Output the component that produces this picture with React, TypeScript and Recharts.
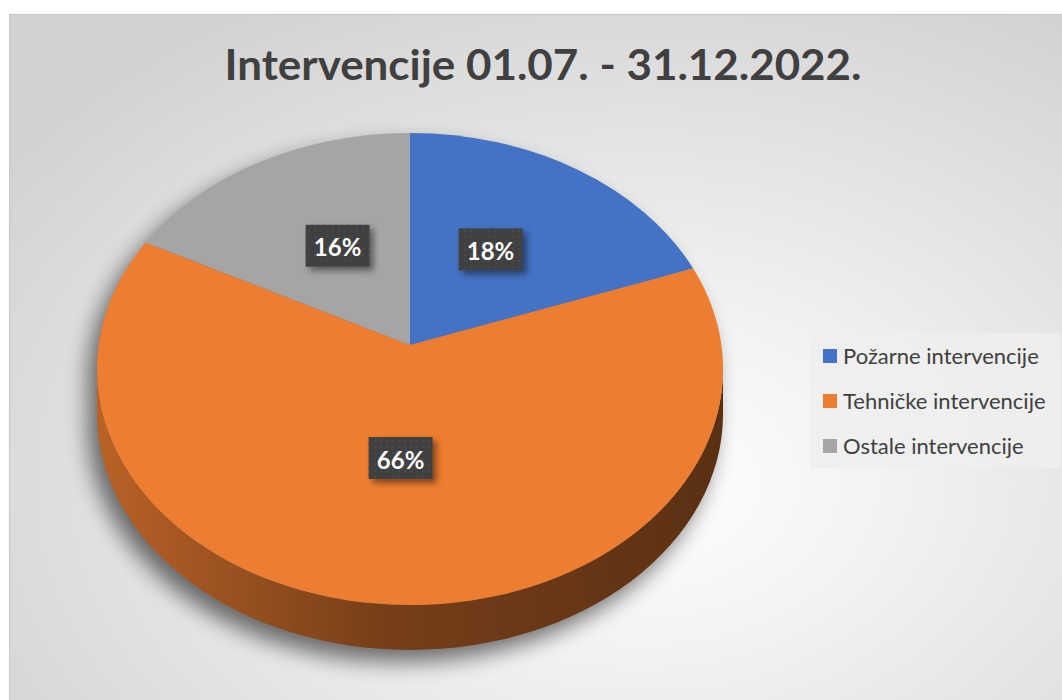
import { PieChart, Pie, Cell, Legend } from 'recharts'

const categories = ['Požarne intervencije', 'Tehničke intervencije', 'Ostale intervencije']
const shares = [18, 66, 16]
const colors = ['#4472c4', '#ed7d31', '#a5a5a5']
const title = 'Intervencije 01.07. - 31.12.2022.'

const data = categories.map((name, i) => ({ name, value: shares[i] }))

// fake 3D: squash the circle into an ellipse and add a side wall
const TILT = 0.754
const DEPTH = 45
const APEX = 24
const RAD = Math.PI / 180
const FONT = 'Lato, "Open Sans", sans-serif'

function shade(hex: string, f: number) {
  const n = parseInt(hex.slice(1), 16)
  const c = [(n >> 16) & 255, (n >> 8) & 255, n & 255].map((v) => Math.round(v * f))
  return `rgb(${c[0]},${c[1]},${c[2]})`
}

function pt(cx: number, cy: number, r: number, a: number) {
  return [cx + r * Math.cos(a * RAD), cy - r * TILT * Math.sin(a * RAD)]
}

function topPath(cx: number, cy: number, r: number, a1: number, a2: number) {
  const hi = Math.max(a1, a2)
  const lo = Math.min(a1, a2)
  const [x1, y1] = pt(cx, cy, r, hi)
  const [x2, y2] = pt(cx, cy, r, lo)
  const large = hi - lo > 180 ? 1 : 0
  return `M${cx},${cy - APEX} L${x1},${y1} A${r},${r * TILT} 0 ${large} 1 ${x2},${y2} Z`
}

// parts of the arc that face the viewer (lower half of the ellipse)
function sidePaths(cx: number, cy: number, r: number, a1: number, a2: number) {
  const hi = Math.max(a1, a2)
  const lo = Math.min(a1, a2)
  const out: string[] = []
  for (let k = -2; k <= 1; k++) {
    const s = Math.min(hi, 360 * k)
    const e = Math.max(lo, 360 * k - 180)
    if (s - e <= 0.01) continue
    const [x1, y1] = pt(cx, cy, r, s)
    const [x2, y2] = pt(cx, cy, r, e)
    const ry = r * TILT
    out.push(
      `M${x1},${y1} A${r},${ry} 0 0 1 ${x2},${y2} L${x2},${y2 + DEPTH} A${r},${ry} 0 0 0 ${x1},${y1 + DEPTH} Z`
    )
  }
  return out
}

function SideShape(props: any) {
  const { cx, cy, outerRadius, startAngle, endAngle, fill, index } = props
  const sides = sidePaths(cx, cy, outerRadius, startAngle, endAngle)
  const idx = colors.indexOf(fill) >= 0 ? colors.indexOf(fill) : index
  return (
    <g>
      <g filter="url(#pieShadow)" transform="translate(-9,12)" opacity={0.55}>
        <path d={topPath(cx, cy, outerRadius, startAngle, endAngle)} fill="#000" />
        {sides.map((d, i) => (
          <path key={i} d={d} fill="#000" />
        ))}
      </g>
      {sides.map((d, i) => (
        <path key={i} d={d} fill={`url(#side${idx})`} />
      ))}
    </g>
  )
}

function TopShape(props: any) {
  const { cx, cy, outerRadius, startAngle, endAngle, fill } = props
  return <path d={topPath(cx, cy, outerRadius, startAngle, endAngle)} fill={fill} />
}

function renderLabel(props: any) {
  const { cx, cy, midAngle, outerRadius, percent } = props
  const f = 0.48
  const x = cx + f * outerRadius * Math.cos(midAngle * RAD)
  const y = cy - APEX - f * outerRadius * TILT * Math.sin(midAngle * RAD)
  return (
    <g>
      <rect x={x - 32} y={y - 21} width={64} height={42} fill="url(#dots)" filter="url(#boxShadow)" />
      <text
        x={x}
        y={y + 1}
        textAnchor="middle"
        dominantBaseline="central"
        fill="#ffffff"
        fontFamily={FONT}
        fontWeight={700}
        fontSize={24}
      >
        {`${Math.round(percent * 100)}%`}
      </text>
    </g>
  )
}

function LegendBox() {
  return (
    <div
      style={{
        background: 'rgba(238,238,238,0.85)',
        padding: '0 0 0 13px',
        fontFamily: FONT,
        fontSize: 22,
        color: '#404040',
      }}
    >
      {categories.map((c, i) => (
        <div key={c} style={{ display: 'flex', alignItems: 'center', height: 45 }}>
          <span style={{ width: 14, height: 14, background: colors[i], marginRight: 6 }} />
          <span>{c}</span>
        </div>
      ))}
    </div>
  )
}

export default function App() {
  return (
    <div style={{ position: 'absolute', left: 0, top: 0, width: 1062, height: 700, background: '#fff' }}>
      <svg width={0} height={0} style={{ position: 'absolute' }}>
        <defs>
          {colors.map((c, i) => (
            <linearGradient key={c} id={`side${i}`} x1="0" y1="0" x2="1" y2="0">
              <stop offset="0%" stopColor={shade(c, 0.78)} />
              <stop offset="45%" stopColor={shade(c, 0.5)} />
              <stop offset="100%" stopColor={shade(c, 0.38)} />
            </linearGradient>
          ))}
          <filter id="pieShadow" x="-20%" y="-20%" width="140%" height="140%">
            <feGaussianBlur stdDeviation="11" />
          </filter>
          <filter id="boxShadow" x="-30%" y="-30%" width="160%" height="160%">
            <feDropShadow dx="4" dy="4" stdDeviation="3" floodColor="#000" floodOpacity="0.45" />
          </filter>
          <pattern id="dots" width="6" height="6" patternUnits="userSpaceOnUse">
            <rect width="6" height="6" fill="#404040" />
            <rect x="2" y="2" width="2" height="2" fill="#4a4a4a" />
          </pattern>
        </defs>
      </svg>
      <div
        style={{
          position: 'absolute',
          left: 9,
          top: 14,
          width: 1053,
          height: 686,
          borderLeft: '1px solid #c4c4c4',
          borderTop: '1px solid #c4c4c4',
          boxSizing: 'border-box',
          background: 'radial-gradient(ellipse 75% 80% at 60% 68%, #ffffff 0%, #f3f3f3 30%, #d2d2d2 100%)',
        }}
      />
      <svg width={1062} height={120} style={{ position: 'absolute', left: 0, top: 0 }}>
        <text
          x={543}
          y={80}
          textAnchor="middle"
          textLength={637}
          lengthAdjust="spacingAndGlyphs"
          fontFamily={FONT}
          fontWeight={700}
          fontSize={42}
          fill="#404040"
        >
          {title}
        </text>
      </svg>
      <div style={{ position: 'absolute', left: 0, top: 0 }}>
        <PieChart width={1062} height={700} margin={{ top: 0, right: 0, bottom: 0, left: 0 }}>
          <Pie
            data={data}
            dataKey="value"
            nameKey="name"
            cx={410}
            cy={369}
            outerRadius={313}
            startAngle={90}
            endAngle={-270}
            stroke="none"
            legendType="none"
            isAnimationActive={false}
            shape={SideShape}
          >
            {data.map((d, i) => (
              <Cell key={d.name} fill={colors[i]} />
            ))}
          </Pie>
          <Pie
            data={data}
            dataKey="value"
            nameKey="name"
            cx={410}
            cy={369}
            outerRadius={313}
            startAngle={90}
            endAngle={-270}
            stroke="none"
            isAnimationActive={false}
            shape={TopShape}
            label={renderLabel}
            labelLine={false}
          >
            {data.map((d, i) => (
              <Cell key={d.name} fill={colors[i]} />
            ))}
          </Pie>
          <Legend
            layout="vertical"
            content={() => <LegendBox />}
            wrapperStyle={{ left: 810, top: 333, width: 251, right: 'auto', bottom: 'auto' }}
          />
        </PieChart>
      </div>
    </div>
  )
}
